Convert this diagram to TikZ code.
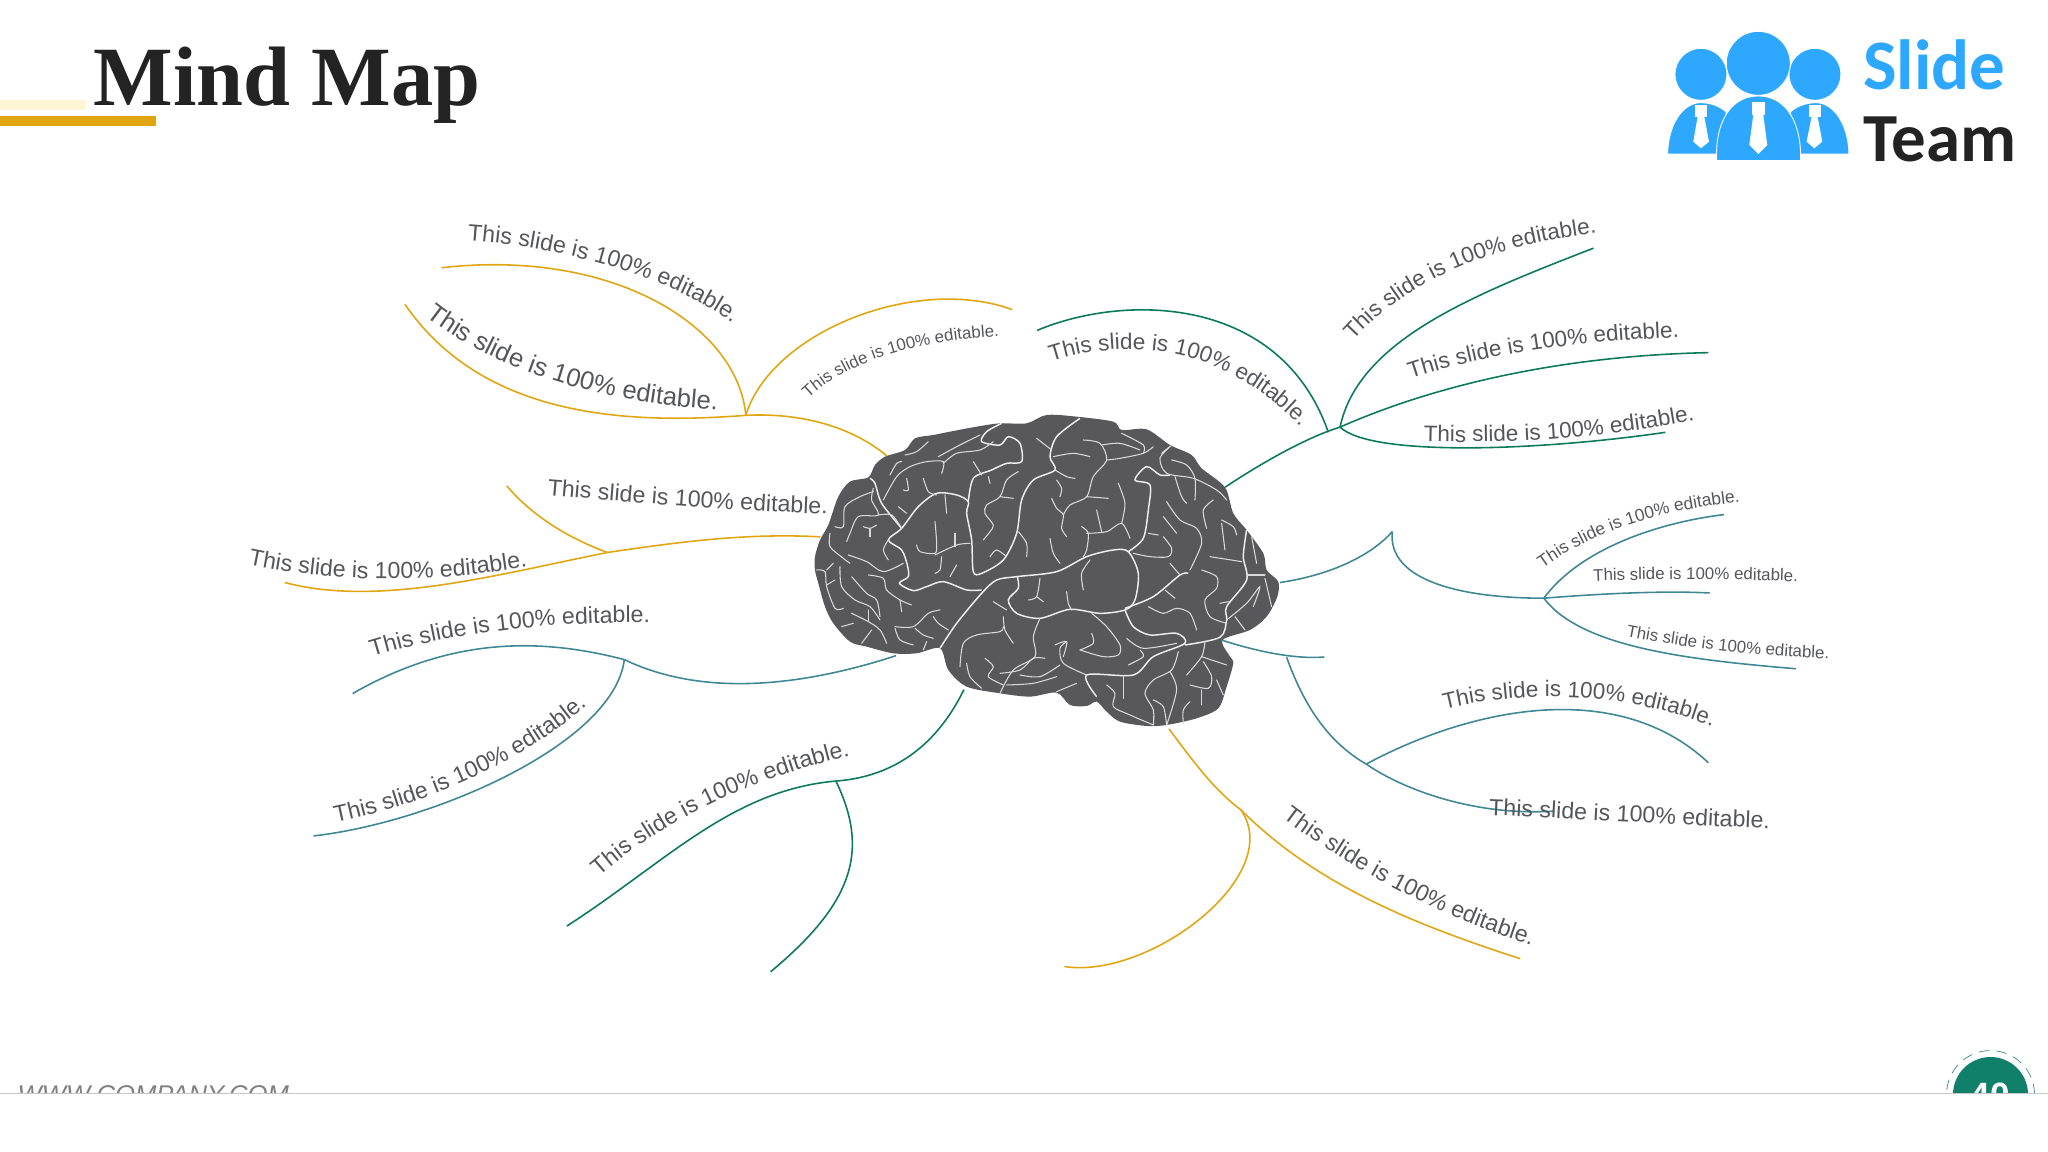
\documentclass[tikz,border=0pt]{standalone}
\usepackage{fontspec}
\setmainfont{Liberation Sans}
\newfontfamily\titlefont{Liberation Serif}
\newfontfamily\logofont{Carlito}
\usetikzlibrary{decorations.text}
\definecolor{gold}{HTML}{E2A512}
\definecolor{palegold}{HTML}{FFF6D5}
\definecolor{pine}{HTML}{0B7A5C}
\definecolor{teal2}{HTML}{3F8794}
\definecolor{ink}{HTML}{232323}
\definecolor{lab}{HTML}{55565A}
\definecolor{cortex}{HTML}{58575A}
\definecolor{sky}{HTML}{2EA8FF}
\definecolor{badgegreen}{HTML}{10806A}
\newcommand{\labelbig}{\fontsize{7.3pt}{7.3pt}\selectfont}
\newcommand{\labelmid}{\fontsize{6.6pt}{6.6pt}\selectfont}
\newcommand{\labelless}{\fontsize{6.4pt}{6.4pt}\selectfont}
\newcommand{\labelsmall}{\fontsize{4.95pt}{4.95pt}\selectfont}
\newcommand{\labeltiny}{\fontsize{4.8pt}{4.8pt}\selectfont}
\begingroup\catcode`\%=12 \gdef\pctsign{%}\endgroup
\begin{document}
\begin{tikzpicture}[x=0.013061cm, y=-0.013061cm,
	branch/.style = {line width=0.45pt},
	lbl/.style = {decorate, decoration={text along path, text color=lab,
		text={|#1|This slide is 100\pctsign{} editable.}}},
	zoomed/.style = {x=1cm/300, y=-1cm/300},
	major/.style = {draw=white!93!black, line width=0.42pt, line join=round},
	fine/.style = {draw=white!85!black, line width=0.3pt, line cap=round},
	logo/.style = {fill=sky, draw=white, line width=0.25pt}]
	\useasboundingbox (0,0) rectangle (1568,882);
	\fill[palegold] (0,76.6) rectangle (65.8,84.2);
	\fill[gold] (0,88.8) rectangle (119.4,96.5);
	\node[anchor=base west, inner sep=0, text=ink, font=\titlefont\fontsize{24pt}{24pt}\selectfont\bfseries] (title) at (71,81) {Mind Map};

	\begin{scope}[shift={(1255.6,7.66)}, zoomed]
		\fill[logo] (183,193) circle (78);
		\fill[logo] (525,193) circle (78);
		\fill[logo] (355,160) circle (96);
		\fill[logo] (83,432) .. controls (85,340) and (130,280) .. (180,278) .. controls (215,278) and (240,290) .. (258,305) -- (258,432) -- cycle;
		\fill[logo] (627,432) .. controls (625,340) and (580,280) .. (530,278) .. controls (495,278) and (470,290) .. (452,305) -- (452,432) -- cycle;
		\filldraw[logo] (230,452) .. controls (225,340) and (270,258) .. (355,258) .. controls (440,258) and (485,340) .. (482,452) -- cycle;
		\fill[white] (165,285) rectangle (200,320);
		\fill[white] (173,320) -- (193,320) -- (207,395) -- (183,415) -- (160,395) -- cycle;
		\fill[white] (335,275) rectangle (375,315);
		\fill[white] (340,315) -- (370,315) -- (382,405) -- (355,432) -- (328,405) -- cycle;
		\fill[white] (507,285) rectangle (542,320);
		\fill[white] (515,320) -- (533,320) -- (547,395) -- (523,415) -- (500,395) -- cycle;
		\node[anchor=base west, inner sep=0, text=sky, font=\logofont\fontsize{20.2pt}{20.2pt}\selectfont\bfseries] (slide) at (668,238) {Slide};
		\node[anchor=base west, inner sep=0, text=ink, font=\logofont\fontsize{19.6pt}{19.6pt}\selectfont\bfseries] (team) at (668,455) {Team};
	\end{scope}

	\begin{scope}[shift={(612.5,306.25)}, zoomed]
		\fill[cortex] plot[smooth cycle, tension=0.5] coordinates {(45,470) (60,420) (85,375) (115,290) (150,245) (205,232) (225,195) (255,170) (315,150) (345,115) (400,105) (450,95) (530,80) (600,70) (680,70) (740,45) (830,50) (940,65) (965,90) (1040,88) (1110,135) (1175,165) (1205,205) (1275,262) (1300,340) (1340,390) (1390,460) (1400,510) (1435,545) (1432,590) (1400,650) (1350,690) (1268,720) (1290,770) (1300,790) (1280,860) (1255,925) (1190,955) (1100,975) (1040,978) (960,965) (920,935) (890,905) (860,918) (810,915) (770,878) (690,890) (600,880) (500,860) (445,810) (420,745) (350,760) (280,760) (200,740) (150,725) (100,670) (75,620) (55,550) (45,510)};
		\draw[major] plot[smooth, tension=0.5] coordinates {(420,745) (470,670) (545,580) (590,540) (650,530) (770,515) (860,470) (940,450) (985,455) (1015,520) (1005,600) (975,630) (900,640) (810,628) (720,655) (650,640) (625,600) (655,565) (652,530)};
		\draw[major] plot[smooth, tension=0.5] coordinates {(985,455) (1030,415) (1045,330) (1050,255) (1005,240) (1040,200) (1080,225) (1110,225)};
		\draw[major] plot[smooth, tension=0.5] coordinates {(545,570) (500,570) (430,545) (380,560) (340,572) (298,550) (325,530) (322,495) (305,450) (265,420) (305,385) (355,320) (410,280) (470,285) (505,305) (500,340) (515,420) (520,515) (545,520) (610,480) (650,400) (665,300) (700,240) (765,210) (750,170) (770,110) (840,55)};
		\draw[major] plot[smooth, tension=0.5] coordinates {(305,385) (245,310) (225,250) (210,235)};
		\draw[major] plot[smooth, tension=0.5] coordinates {(505,305) (520,235) (575,210) (620,190) (665,185) (660,130) (625,110) (600,135) (545,125) (560,95) (605,70)};
		\draw[major] plot[smooth, tension=0.5] coordinates {(975,630) (1000,680) (1050,705) (1130,700) (1155,730) (1060,770) (1000,825) (860,825) (890,890)};
		\draw[major] plot[smooth, tension=0.5] coordinates {(1155,735) (1260,712) (1280,660) (1280,620) (1340,540) (1330,470) (1340,390)};
		\draw[major] plot[smooth, tension=0.5] coordinates {(975,625) (1060,590) (1140,525) (1165,520)};
		\draw[fine] plot[smooth] coordinates {(860,825) (790,790) (780,745) (800,725)};
		\draw[fine] plot[smooth] coordinates {(720,655) (700,710) (705,770) (640,810) (600,880)};
		\draw[fine] plot[smooth] coordinates {(415,170) (470,140) (520,115) (540,105)};
		\draw[fine] plot[smooth] coordinates {(250,300) (290,230) (330,200) (380,185) (430,185) (425,220)};
		\draw[fine] plot[smooth] coordinates {(430,190) (470,160) (540,150) (580,125)};
		\draw[fine] plot[smooth] coordinates {(315,165) (350,155) (385,125)};
		\draw[fine] plot[smooth] coordinates {(270,225) (290,190) (305,185)};
		\draw[fine] plot[smooth] coordinates {(370,235) (385,275) (410,285)};
		\draw[fine] plot[smooth] coordinates {(320,235) (325,270) (310,270)};
		\draw[fine] plot[smooth] coordinates {(435,285) (440,340)};
		\draw[fine] plot[smooth] coordinates {(405,365) (410,430) (405,460) (360,455) (350,435)};
		\draw[fine] plot[smooth] coordinates {(405,465) (470,435) (510,430)};
		\draw[fine] plot[smooth] coordinates {(465,400) (465,440)};
		\draw[fine] plot[smooth] coordinates {(425,470) (420,510) (405,520)};
		\draw[fine] plot[smooth] coordinates {(470,495) (450,530)};
		\draw[fine] plot[smooth] coordinates {(520,185) (545,225)};
		\draw[fine] plot[smooth] coordinates {(565,230) (570,250)};
		\draw[fine] plot[smooth] coordinates {(655,215) (620,240) (600,290) (560,315) (555,340) (580,375) (570,395) (550,420)};
		\draw[fine] plot[smooth] coordinates {(600,290) (640,295)};
		\draw[fine] plot[smooth] coordinates {(570,470) (590,450) (620,470)};
		\draw[fine] plot[smooth] coordinates {(655,395) (680,430) (680,470)};
		\draw[fine] plot[smooth] coordinates {(710,115) (755,150)};
		\draw[fine] plot[smooth] coordinates {(760,170) (820,160) (870,170)};
		\draw[fine] plot[smooth] coordinates {(765,210) (800,230) (825,235)};
		\draw[fine] plot[smooth] coordinates {(770,240) (785,265) (780,290)};
		\draw[fine] plot[smooth] coordinates {(755,295) (770,325) (790,345) (785,385) (800,410)};
		\draw[fine] plot[smooth] coordinates {(790,345) (810,315) (860,290) (880,230) (920,180) (900,130) (850,120)};
		\draw[fine] plot[smooth] coordinates {(920,180) (960,175) (1030,160) (1060,140)};
		\draw[fine] plot[smooth] coordinates {(905,135) (960,130) (1020,150)};
		\draw[fine] plot[smooth] coordinates {(965,100) (1030,135) (1030,160)};
		\draw[fine] plot[smooth] coordinates {(860,290) (925,295)};
		\draw[fine] plot[smooth] coordinates {(890,330) (905,395)};
		\draw[fine] plot[smooth] coordinates {(860,400) (920,395) (965,370) (990,415)};
		\draw[fine] plot[smooth] coordinates {(965,370) (975,310) (955,250)};
		\draw[fine] plot[smooth] coordinates {(845,380) (865,400) (860,450) (850,470)};
		\draw[fine] plot[smooth] coordinates {(750,415) (760,460) (780,490)};
		\draw[fine] plot[smooth] coordinates {(1085,160) (1110,140) (1080,175) (1100,220) (1180,235) (1250,270) (1280,300)};
		\draw[fine] plot[smooth] coordinates {(1125,230) (1145,290) (1160,310)};
		\draw[fine] plot[smooth] coordinates {(1115,180) (1160,195) (1185,235) (1185,300)};
		\draw[fine] plot[smooth] coordinates {(1240,300) (1210,330) (1220,385)};
		\draw[fine] plot[smooth] coordinates {(1265,370) (1275,450)};
		\draw[fine] plot[smooth] coordinates {(1265,360) (1300,380) (1310,405)};
		\draw[fine] plot[smooth] coordinates {(1100,305) (1140,360) (1190,385) (1205,430) (1170,510)};
		\draw[fine] plot[smooth] coordinates {(1090,350) (1130,400)};
		\draw[fine] plot[smooth] coordinates {(1045,400) (1075,405)};
		\draw[fine] plot[smooth] coordinates {(1090,410) (1115,445) (1105,470) (1050,470) (1000,460)};
		\draw[fine] plot[smooth] coordinates {(1230,470) (1325,485)};
		\draw[fine] plot[smooth] coordinates {(1205,510) (1250,530) (1250,565) (1215,600) (1230,650) (1280,670)};
		\draw[fine] plot[smooth] coordinates {(1260,610) (1285,605)};
		\draw[fine] plot[smooth] coordinates {(1340,525) (1395,525)};
		\draw[fine] plot[smooth] coordinates {(1355,410) (1370,490)};
		\draw[fine] plot[smooth] coordinates {(1280,660) (1340,610) (1380,560) (1360,620)};
		\draw[fine] plot[smooth] coordinates {(1395,535) (1415,620)};
		\draw[fine] plot[smooth] coordinates {(1305,650) (1335,690)};
		\draw[fine] plot[smooth] coordinates {(1110,490) (1140,525)};
		\draw[fine] plot[smooth] coordinates {(1095,570) (1125,595)};
		\draw[fine] plot[smooth] coordinates {(1045,620) (1090,640) (1130,625) (1170,640) (1190,690)};
		\draw[fine] plot[smooth] coordinates {(850,570) (845,520) (870,480)};
		\draw[fine] plot[smooth] coordinates {(800,575) (805,610) (815,630)};
		\draw[fine] plot[smooth] coordinates {(720,535) (710,590) (685,600)};
		\draw[fine] plot[smooth] coordinates {(710,590) (730,605)};
		\draw[fine] plot[smooth] coordinates {(580,605) (620,630)};
		\draw[fine] plot[smooth] coordinates {(610,650) (615,690) (640,730)};
		\draw[fine] plot[smooth] coordinates {(480,800) (490,730) (530,705) (600,695) (610,680)};
		\draw[fine] plot[smooth] coordinates {(500,790) (510,830) (545,865)};
		\draw[fine] plot[smooth] coordinates {(555,775) (580,800) (565,830) (610,855)};
		\draw[fine] plot[smooth] coordinates {(620,855) (700,850) (770,830)};
		\draw[fine] plot[smooth] coordinates {(600,820) (660,810) (700,775) (735,775)};
		\draw[fine] plot[smooth] coordinates {(660,825) (720,830) (780,795)};
		\draw[fine] plot[smooth] coordinates {(770,875) (830,850)};
		\draw[fine] plot[smooth] coordinates {(840,750) (880,730) (875,700)};
		\draw[fine] plot[smooth] coordinates {(840,750) (910,770) (955,765) (960,735) (920,680) (875,640)};
		\draw[fine] plot[smooth] coordinates {(765,735) (800,725) (790,770)};
		\draw[fine] plot[smooth] coordinates {(980,715) (1030,745) (1130,730)};
		\draw[fine] plot[smooth] coordinates {(1020,750) (1030,770) (985,795)};
		\draw[fine] plot[smooth] coordinates {(1135,755) (1115,810) (1060,840) (1035,880) (1060,930) (1060,975)};
		\draw[fine] plot[smooth] coordinates {(1110,815) (1130,870) (1100,975)};
		\draw[fine] plot[smooth] coordinates {(1060,900) (1090,920) (1100,975)};
		\draw[fine] plot[smooth] coordinates {(1215,725) (1205,770) (1160,825)};
		\draw[fine] plot[smooth] coordinates {(1205,770) (1280,795)};
		\draw[fine] plot[smooth] coordinates {(1210,785) (1235,830) (1225,865) (1170,855)};
		\draw[fine] plot[smooth] coordinates {(1205,870) (1205,915)};
		\draw[fine] plot[smooth] coordinates {(1170,905) (1150,930) (1150,970)};
		\draw[fine] plot[smooth] coordinates {(1250,840) (1270,885)};
		\draw[fine] plot[smooth] coordinates {(920,855) (945,880) (940,920) (990,945) (1060,975)};
		\draw[fine] plot[smooth] coordinates {(970,830) (970,895)};
		\draw[fine] plot[smooth] coordinates {(285,680) (340,680) (385,640) (420,630)};
		\draw[fine] plot[smooth] coordinates {(400,650) (415,670) (445,690)};
		\draw[fine] plot[smooth] coordinates {(345,685) (370,705) (400,715)};
		\draw[fine] plot[smooth] coordinates {(285,685) (300,720) (340,735)};
		\draw[fine] plot[smooth] coordinates {(370,750) (380,725)};
		\draw[fine] plot[smooth] coordinates {(185,730) (215,690)};
		\draw[fine] plot[smooth] coordinates {(125,680) (160,670)};
		\draw[fine] plot[smooth] coordinates {(155,640) (205,665) (240,690) (260,730)};
		\draw[fine] plot[smooth] coordinates {(205,630) (205,665)};
		\draw[fine] plot[smooth] coordinates {(120,500) (125,560) (165,600) (210,620) (240,660)};
		\draw[fine] plot[smooth] coordinates {(155,530) (200,580) (230,600) (240,650)};
		\draw[fine] plot[smooth] coordinates {(145,465) (200,485) (250,515) (310,490)};
		\draw[fine] plot[smooth] coordinates {(205,525) (250,535) (260,570) (300,600) (335,615)};
		\draw[fine] plot[smooth] coordinates {(300,600) (305,635)};
		\draw[fine] plot[smooth] coordinates {(90,400) (90,440) (130,475) (150,490)};
		\draw[fine] plot[smooth] coordinates {(50,510) (75,515) (80,560) (105,625) (130,625)};
		\draw[fine] plot[smooth] coordinates {(80,555) (105,540)};
		\draw[fine] plot[smooth] coordinates {(80,510) (100,490)};
		\draw[fine] plot[smooth] coordinates {(105,380) (130,380) (135,320) (180,290) (220,275)};
		\draw[fine] plot[smooth] coordinates {(220,265) (215,300) (235,345) (175,350) (150,400) (140,425)};
		\draw[fine] plot[smooth] coordinates {(235,345) (275,345) (305,385)};
		\draw[fine] plot[smooth] coordinates {(190,380) (210,385) (230,375)};
		\draw[fine] plot[smooth] coordinates {(210,385) (210,410)};
		\draw[fine] plot[smooth] coordinates {(265,420) (250,450) (265,480)};
		\draw[fine] plot[smooth] coordinates {(295,320) (320,340)};
	\end{scope}

	\coordinate (rootA) at (679,349);
	\coordinate (hubA) at (571,318);
	\coordinate (tipA1) at (338,205);
	\coordinate (tipA2) at (310,233);
	\coordinate (tipA3) at (775,237);
	\draw[branch, gold] (rootA) .. controls (650,325) and (610,316) .. (hubA);
	\draw[branch, gold] (hubA) .. controls (565,250) and (470,190) .. (tipA1);
	\draw[branch, gold] (hubA) .. controls (480,325) and (370,320) .. (tipA2);
	\draw[branch, gold] (hubA) .. controls (590,255) and (700,210) .. (tipA3);
	\coordinate (rootB) at (628,411);
	\coordinate (hubB) at (465,423);
	\coordinate (tipB1) at (218,446);
	\coordinate (tipB2) at (388,372);
	\draw[branch, gold] (rootB) .. controls (570,408) and (520,415) .. (hubB);
	\draw[branch, gold] (hubB) .. controls (380,440) and (290,465) .. (tipB1);
	\draw[branch, gold] (hubB) .. controls (430,410) and (405,392) .. (tipB2);
	\coordinate (rootC) at (686,502);
	\coordinate (hubC) at (478,505);
	\coordinate (tipC1) at (270,531);
	\coordinate (tipC2) at (240,640);
	\draw[branch, teal2] (rootC) .. controls (600,530) and (530,530) .. (hubC);
	\draw[branch, teal2] (hubC) .. controls (420,490) and (350,485) .. (tipC1);
	\draw[branch, teal2] (hubC) .. controls (470,570) and (330,630) .. (tipC2);
	\coordinate (rootD) at (738,528);
	\coordinate (hubD) at (640,598);
	\coordinate (tipD1) at (434,709);
	\coordinate (tipD2) at (590,744);
	\draw[branch, pine] (rootD) .. controls (715,575) and (680,595) .. (hubD);
	\draw[branch, pine] (hubD) .. controls (560,605) and (510,660) .. (tipD1);
	\draw[branch, pine] (hubD) .. controls (665,650) and (655,690) .. (tipD2);
	\coordinate (rootE) at (895,558);
	\coordinate (hubE) at (950,620);
	\coordinate (tipE1) at (1164,734);
	\coordinate (tipE2) at (815,740);
	\draw[branch, gold] (rootE) .. controls (915,585) and (930,605) .. (hubE);
	\draw[branch, gold] (hubE) .. controls (1010,680) and (1090,710) .. (tipE1);
	\draw[branch, gold] (hubE) .. controls (985,670) and (880,750) .. (tipE2);
	\coordinate (rootF) at (935,490);
	\coordinate (tipF0) at (1014,503);
	\coordinate (forkF) at (985,503);
	\coordinate (hubF) at (1046,585);
	\coordinate (tipF1) at (1308,584);
	\coordinate (tipF2) at (1190,621);
	\draw[branch, teal2] (rootF) .. controls (960,498) and (990,505) .. (tipF0);
	\draw[branch, teal2] (forkF) .. controls (1000,545) and (1020,570) .. (hubF);
	\draw[branch, teal2] (hubF) .. controls (1130,540) and (1240,520) .. (tipF1);
	\draw[branch, teal2] (hubF) .. controls (1075,605) and (1130,625) .. (tipF2);
	\coordinate (rootG) at (980,446);
	\coordinate (cuspG) at (1066,407);
	\coordinate (hubG) at (1182,458);
	\coordinate (tipG1) at (1320,394);
	\coordinate (tipG2) at (1309,454);
	\coordinate (tipG3) at (1375,512);
	\draw[branch, teal2] (rootG) .. controls (1020,440) and (1050,425) .. (cuspG);
	\draw[branch, teal2] (cuspG) .. controls (1062,445) and (1120,458) .. (hubG);
	\draw[branch, teal2] (hubG) .. controls (1210,420) and (1270,400) .. (tipG1);
	\draw[branch, teal2] (hubG) .. controls (1220,455) and (1270,452) .. (tipG2);
	\draw[branch, teal2] (hubG) .. controls (1210,495) and (1290,505) .. (tipG3);
	\coordinate (rootH) at (938,373);
	\coordinate (hubH) at (1026,327);
	\coordinate (joinH) at (1017,331);
	\coordinate (tipH0) at (794,253);
	\coordinate (tipH1) at (1220,190);
	\coordinate (tipH2) at (1308,270);
	\coordinate (tipH3) at (1275,331);
	\draw[branch, pine] (rootH) .. controls (965,355) and (1000,335) .. (hubH);
	\draw[branch, pine] (joinH) .. controls (980,225) and (860,225) .. (tipH0);
	\draw[branch, pine] (hubH) .. controls (1040,260) and (1130,225) .. (tipH1);
	\draw[branch, pine] (hubH) .. controls (1110,290) and (1210,272) .. (tipH2);
	\draw[branch, pine] (hubH) .. controls (1050,350) and (1180,345) .. (tipH3);

	\path[lbl=\labelmid] (358,184) .. controls (420,188) and (520,210) .. (575,258);
	\path[lbl=\labelbig] (326,242) .. controls (380,285) and (470,312) .. (565,314);
	\path[lbl=\labeltiny] (619,305) .. controls (650,275) and (710,258) .. (780,257);
	\path[lbl=\labelmid] (419,379) .. controls (490,385) and (570,392) .. (650,394);
	\path[lbl=\labelmid] (190,432) .. controls (260,447) and (340,447) .. (420,431);
	\path[lbl=\labelmid] (285,503) .. controls (350,483) and (430,475) .. (512,477);
	\path[lbl=\labelmid] (257,630) .. controls (330,615) and (410,580) .. (465,526);
	\path[lbl=\labelmid] (459,671) .. controls (510,625) and (590,590) .. (668,575);
	\path[lbl=\labelmid] (982,626) .. controls (1040,670) and (1110,705) .. (1180,726);
	\path[lbl=\labelless] (1106,543) .. controls (1170,527) and (1250,530) .. (1320,560);
	\path[lbl=\labelmid] (1140,624) .. controls (1210,627) and (1290,632) .. (1372,635);
	\path[lbl=\labelsmall] (1181,435) .. controls (1223,405) and (1278,387) .. (1353,383);
	\path[lbl=\labeltiny] (1220,445) .. controls (1270,443) and (1330,443) .. (1392,446);
	\path[lbl=\labeltiny] (1245,487) .. controls (1295,497) and (1350,503) .. (1420,505);
	\path[lbl=\labelless] (1090,338) .. controls (1160,340) and (1235,335) .. (1312,319);
	\path[lbl=\labelless] (1080,290) .. controls (1140,270) and (1215,260) .. (1300,258);
	\path[lbl=\labelless] (1036,261) .. controls (1082,210) and (1150,185) .. (1236,177);
	\path[lbl=\labelless] (805,277) .. controls (872,255) and (952,268) .. (1011,345);

	\node[anchor=base west, inner sep=0, text=black!50, font=\itshape\fontsize{7.3pt}{7.3pt}\selectfont] (www) at (13,844.5) {WWW.COMPANY.COM};
	\node[circle, inner sep=0, minimum size=0.88cm, draw=teal2, densely dashed, line width=0.2pt] (ring) at (1524,838) {};
	\node[circle, inner sep=0, minimum size=0.75cm, fill=badgegreen] (badge) at (1524,838) {};
	\node[anchor=base, inner sep=0, text=white, font=\bfseries\fontsize{10pt}{10pt}\selectfont] (num) at (1524,847.6) {40};
	\fill[white] (0,837) rectangle (1568,882);
	\draw[black!22, line width=0.3pt] (0,837) -- (1568,837);
\end{tikzpicture}
\end{document}
